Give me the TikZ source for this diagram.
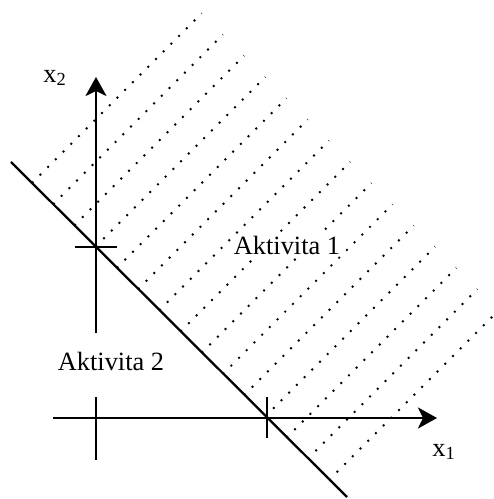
\documentclass[tikz,border=0pt]{standalone}
\usepackage{fontspec}
\setmainfont{Liberation Serif}
\usetikzlibrary{arrows.meta, calc}

\begin{document}
\begin{tikzpicture}[
  axis/.style={line width=1.5pt, -{Stealth[length=3.8mm, width=4.2mm, inset=1mm]}},
  tickmark/.style={line width=1.4pt},
  bound/.style={line width=1.3pt},
  hatch/.style={line width=1.1pt, dash pattern=on 1.1pt off 5.1pt},
  lbl/.style={font=\fontsize{15}{18}\selectfont, inner sep=1pt}
]
\useasboundingbox (-1.92,-1.62) rectangle (7.96,8.36);

% ===== Key points =====
\coordinate (O)   at (0,0);
\coordinate (x1s) at (-0.86,0);
\coordinate (x1e) at (6.82,0);
\coordinate (x2s) at (0,1.70);
\coordinate (x2e) at (0,6.82);
\coordinate (A)   at (3.42,0);
\coordinate (B)   at (0,3.42);
\coordinate (bs)  at (-1.70,5.12);
\coordinate (be)  at (5.02,-1.58);

% ===== Feasible half-plane (dotted) =====
\foreach \k in {0,...,14}{
  \draw[hatch] ({-1.28+0.4243*\k},{4.70-0.4243*\k}) -- ++(45:4.8);
}

% ===== Axes and ticks =====
\draw[axis] (x1s) -- (x1e);
\draw[axis] (x2s) -- (x2e);
\draw[tickmark] ($(B)+(-0.42,0)$) -- ($(B)+(0.42,0)$);
\draw[tickmark] ($(O)+(0,0.42)$) -- ($(O)+(0,-0.84)$);
\draw[tickmark] ($(A)+(0,0.42)$) -- ($(A)+(0,-0.40)$);

% ===== Boundary line =====
\draw[bound] (bs) -- (be);

% ===== Labels =====
\node[lbl] (x2lbl) at (-0.82,6.80) {x\textsubscript{2}};
\node[lbl] (x1lbl) at (6.96,-0.68) {x\textsubscript{1}};
\node[lbl, fill=white] (akt1) at (3.82,3.46) {Aktivita 1};
\node[lbl] (akt2) at (0.30,1.14) {Aktivita 2};

\end{tikzpicture}
\end{document}
